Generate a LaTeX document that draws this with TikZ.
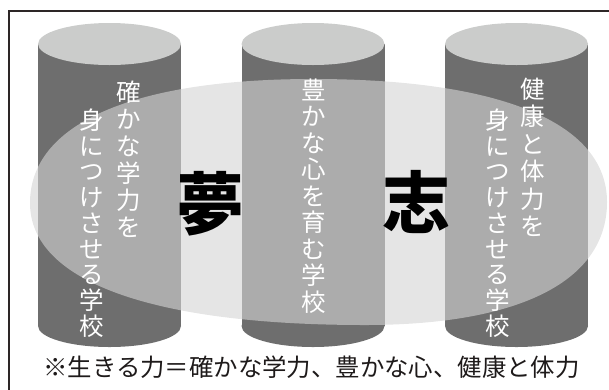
\documentclass[tikz,border=0pt]{standalone}
\usepackage{fontspec}
\newfontfamily\cjk{Noto Sans CJK JP}
\definecolor{sidegray}{RGB}{110,110,110}
\definecolor{topgray}{RGB}{203,204,203}
\definecolor{ovalgray}{RGB}{212,212,212}
\definecolor{framecol}{RGB}{45,38,38}
\definecolor{notecol}{RGB}{30,26,26}
\begin{document}
\begin{tikzpicture}[x=1pt,y=-1pt,
  vchar/.style={text=white, font=\cjk\fontsize{24.5}{24.5}\selectfont, inner sep=0pt,
    text height=21.6pt, text depth=2.9pt, anchor=center},
  bigchar/.style={text=black, font=\cjk\bfseries\fontsize{68}{68}\selectfont, inner sep=0pt,
    text height=59.8pt, text depth=8.2pt, anchor=center},
  notetext/.style={text=notecol, font=\cjk\fontsize{24.4}{24.4}\selectfont, inner sep=0pt,
    text height=21.5pt, text depth=2.9pt, anchor=center},
  framestyle/.style={draw=framecol, line width=2pt},
  oval/.style={fill=ovalgray, fill opacity=0.61}]
\useasboundingbox (0,0) rectangle (609,389);
\clip (0,0) rectangle (609,389);
% frame
\draw[framestyle] (9,400) -- (9,10.5) -- (620,10.5);
% cylinders
\foreach \cx in {109.5,313,516.5}{
  \fill[sidegray] (\cx-71.5,44) rectangle (\cx+71.5,326);
  \fill[sidegray] (\cx,326) ellipse [x radius=71.5, y radius=21];
  \fill[topgray] (\cx,44) ellipse [x radius=71.5, y radius=21];
}
% big translucent oval
\path[oval] (30,203)
  .. controls (30,124) and (132,79) .. (313,79)
  .. controls (501,79) and (607,123) .. (607,202)
  .. controls (607,281) and (520,325) .. (365,325)
  .. controls (151,325) and (30,281) .. (30,203) -- cycle;
% vertical texts
\foreach \c [count=\i from 0] in {確,か,な,学,力,を}
  \node[vchar] (la\i) at (129,92+27*\i) {\c};
\foreach \c [count=\i from 0] in {身,に,つ,け,さ,せ,る,学,校}
  \node[vchar] (lb\i) at (92,120+25.75*\i) {\c};
\foreach \c [count=\i from 0] in {豊,か,な,心,を,育,む,学,校}
  \node[vchar] (m\i) at (314,90+26.5*\i) {\c};
\foreach \c [count=\i from 0] in {健,康,と,体,力,を}
  \node[vchar] (ra\i) at (533,89+27.5*\i) {\c};
\foreach \c [count=\i from 0] in {身,に,つ,け,さ,せ,る,学,校}
  \node[vchar] (rb\i) at (498,120+25.75*\i) {\c};
% big characters
\node[bigchar] (yume) at (210,204) {夢};
\node[bigchar] (kokoro) at (416,203) {志};
% note
\node[notetext] (note) at (311.5,367) {※生きる力＝確かな学力、豊かな心、健康と体力};
\end{tikzpicture}
\end{document}
